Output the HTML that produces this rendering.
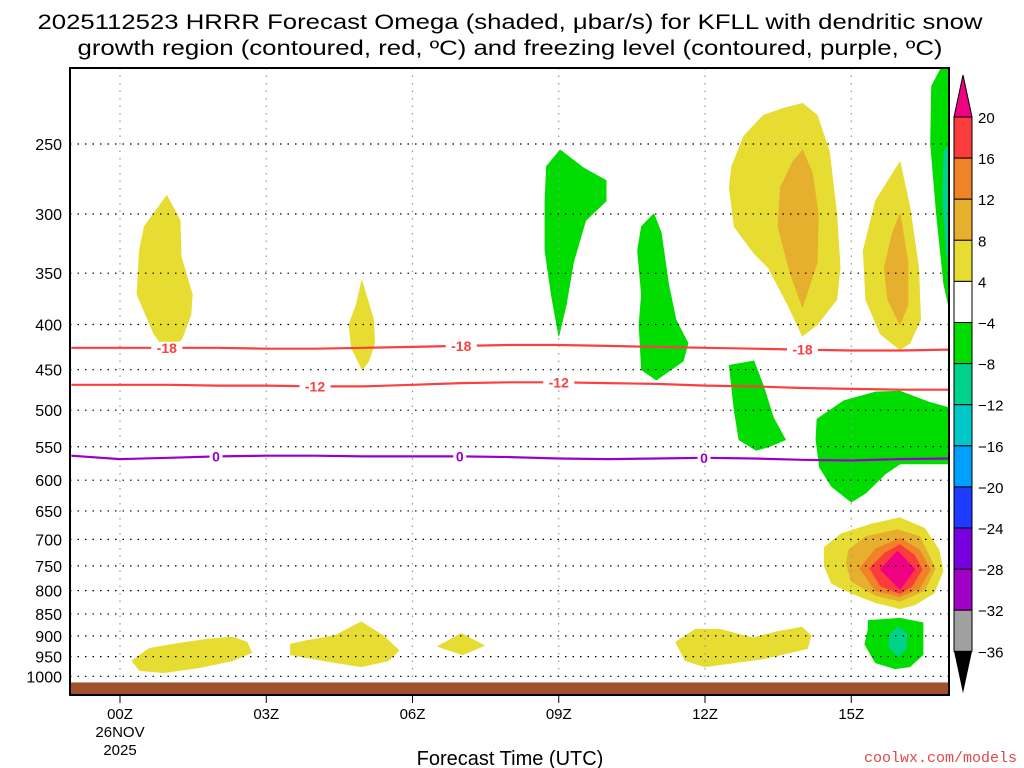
<!DOCTYPE html>
<html><head><meta charset="utf-8"><style>
html,body{margin:0;padding:0;background:#fff;}
svg{display:block;font-family:"Liberation Sans",sans-serif;}
</style></head><body>
<svg id="chart" width="1024" height="768" viewBox="0 0 1024 768" xmlns="http://www.w3.org/2000/svg">
<text x="510" y="29" font-size="21" text-anchor="middle" textLength="945" lengthAdjust="spacingAndGlyphs">2025112523 HRRR Forecast Omega (shaded, μbar/s) for KFLL with dendritic snow</text>
<text x="510" y="55" font-size="21" text-anchor="middle" textLength="865" lengthAdjust="spacingAndGlyphs">growth region (contoured, red, ºC) and freezing level (contoured, purple, ºC)</text>
<g id="plot"></g>
<g id="cbar"></g>
<text x="510" y="765" font-size="20" text-anchor="middle">Forecast Time (UTC)</text>
<text x="1017" y="762" font-size="15" fill="#e04848" text-anchor="end" font-family="Liberation Mono, monospace">coolwx.com/models</text>
</svg>
<script>
const xTickHours=[0,3,6,9,12,15];
const xTickLabels=["00Z","03Z","06Z","09Z","12Z","15Z"];
const yTickPressures=[250,300,350,400,450,500,550,600,650,700,750,800,850,900,950,1000];
const contourHours=[-1,0,1,2,3,4,5,6,7,8,9,10,11,12,13,14,15,16,17];
const iso18=[425,425,425,425,426,426,425,424,423,422,422,423,424,425,426,427,428,428,427];
const iso12=[468,468,468,469,469,470,470,468,466,465,465,466,467,469,470,472,473,474,474];
const iso0=[563,568,566,564,563,563,564,564,564,565,567,568,567,566,567,569,570,568,567];
const label18Hours=[0.96,7.0,14.0];
const label12Hours=[4.0,9.0];
const label0Hours=[1.97,6.97,11.98];
const cbarLevels=["20","16","12","8","4","-4","-8","-12","-16","-20","-24","-28","-32","-36"];
const cbarColors=["#fa3c3c","#f08228","#e6af2d","#e6dc32","#ffffff","#00dc00","#00d28c","#00c8c8","#00a0ff","#1e3cff","#7800dc","#a000c8","#a0a0a0"];
// shaded omega regions: [color, [[hour, pressure], ...]]
const blobColors=["#e6dc32","#e6dc32","#00dc00","#00dc00","#e6dc32","#e6af2d","#e6dc32","#e6af2d","#00dc00","#00d28c","#00dc00","#00dc00","#e6dc32","#e6af2d","#f08228","#fa3c3c","#f00082","#00dc00","#00d28c","#e6dc32","#e6dc32","#e6dc32","#e6dc32"];
const blobPoints=[
[[0.96,286],[1.23,305],[1.25,335],[1.48,370],[1.45,390],[1.27,415],[0.98,430],[0.7,410],[0.35,370],[0.4,330],[0.5,310]],
[[4.96,357],[5.2,395],[5.22,420],[5.1,440],[4.97,450],[4.75,425],[4.7,400],[4.85,380]],
[[9.03,254],[9.5,266],[9.97,275],[9.97,290],[9.55,305],[9.3,340],[9.15,380],[9.0,412],[8.85,370],[8.72,330],[8.72,290],[8.75,265]],
[[10.95,300],[11.1,315],[11.25,360],[11.4,395],[11.65,420],[11.55,440],[11.0,462],[10.7,450],[10.65,400],[10.7,370],[10.62,330],[10.7,310]],
[[14.0,225],[14.3,232],[14.55,255],[14.7,300],[14.77,345],[14.7,375],[14.3,400],[14.0,412],[13.7,380],[13.3,345],[13.0,332],[12.6,310],[12.5,280],[12.55,265],[12.8,245],[13.2,232],[13.6,228]],
[[14.0,254],[14.2,270],[14.32,300],[14.3,340],[14.0,382],[13.75,350],[13.5,310],[13.55,280],[13.8,262]],
[[16.0,262],[16.2,295],[16.38,345],[16.42,395],[16.2,420],[16.0,427],[15.6,410],[15.3,375],[15.25,330],[15.5,290]],
[[16.0,300],[16.16,340],[16.16,380],[16.0,400],[15.75,375],[15.68,345],[15.85,315]],
[[16.85,205],[17.02,205],[17.02,385],[16.9,360],[16.75,300],[16.63,250],[16.65,215]],
[[16.9,255],[17.02,250],[17.02,350],[16.95,330],[16.88,290]],
[[12.5,445],[13.0,440],[13.2,470],[13.4,510],[13.65,540],[13.3,550],[13.05,555],[12.7,540],[12.6,500]],
[[14.3,512],[14.85,488],[15.5,477],[16.0,476],[16.6,490],[17.02,497],[17.02,575],[16.0,575],[15.7,590],[15.3,620],[15.0,635],[14.6,610],[14.35,580],[14.28,540]],
[[14.45,715],[14.8,690],[15.4,673],[16.0,662],[16.5,680],[16.8,720],[16.88,760],[16.7,805],[16.3,830],[16.0,838],[15.5,825],[15.0,805],[14.6,785],[14.45,750]],
[[14.95,720],[15.3,695],[15.95,683],[16.4,695],[16.72,755],[16.5,800],[16.0,822],[15.5,810],[15.0,780],[14.9,745]],
[[15.18,755],[15.5,718],[16.0,698],[16.4,720],[16.62,757],[16.4,795],[16.0,812],[15.5,800]],
[[15.38,755],[15.7,725],[16.0,710],[16.3,730],[16.45,757],[16.25,790],[16.0,806],[15.6,790]],
[[15.6,757],[15.95,722],[16.3,757],[16.0,797]],
[[15.35,865],[16.0,860],[16.47,870],[16.47,945],[16.2,975],[15.9,980],[15.5,965],[15.28,920],[15.35,885]],
[[15.95,880],[16.14,895],[16.12,930],[15.97,950],[15.77,925],[15.8,895]],
[[0.25,960],[0.6,930],[1.2,918],[1.8,908],[2.3,903],[2.6,915],[2.7,940],[2.3,960],[1.6,978],[0.9,990],[0.4,985]],
[[3.5,920],[3.8,912],[4.4,900],[4.95,868],[5.4,900],[5.72,935],[5.5,960],[4.95,975],[4.2,960],[3.5,945]],
[[6.52,925],[7.0,895],[7.47,923],[7.03,945]],
[[11.4,915],[11.8,885],[12.3,885],[12.98,905],[13.5,890],[13.99,880],[14.17,900],[14.1,930],[13.2,955],[12.0,975],[11.6,960]]
];
const NS="http://www.w3.org/2000/svg";
const L=70,R=949,T=68,B=695;
function xs(h){return 120+h*48.75;}
function ys(p){return 144+384*Math.log(p/250);}
function mk(tag,attrs,parent){const e=document.createElementNS(NS,tag);for(const k in attrs)e.setAttribute(k,attrs[k]);parent.appendChild(e);return e;}
const plot=document.getElementById('plot');
const cb=document.getElementById('cbar');
const defs=mk('defs',{},plot);
const cp=mk('clipPath',{id:'clip'},defs);
mk('rect',{x:L,y:T,width:R-L,height:B-T},cp);
const clipG=mk('g',{'clip-path':'url(#clip)'},plot);


blobPoints.forEach((pts,i)=>{
  const d='M'+pts.map(q=>xs(q[0]).toFixed(1)+','+ys(q[1]).toFixed(1)).join('L')+'Z';
  const p=mk('path',{d:d,fill:blobColors[i],stroke:blobColors[i],'stroke-width':1,'stroke-linejoin':'round'},clipG);
  
  
});
// grid
xTickHours.forEach((h,i)=>{
  const g=mk('line',{x1:xs(h),x2:xs(h),y1:T,y2:B,stroke:'#999','stroke-width':1.2,'stroke-dasharray':'1.5 6'},plot);
  
  
  const tk=mk('line',{x1:xs(h),x2:xs(h),y1:B,y2:B+8,stroke:'#000','stroke-width':1},plot);
  
  
  const t=mk('text',{x:xs(h),y:719,'font-size':15,'text-anchor':'middle'},plot);
  t.textContent=xTickLabels[i];
  
  
});
const d1=mk('text',{x:xs(0),y:737,'font-size':15,'text-anchor':'middle'},plot);d1.textContent='26NOV';


const d2=mk('text',{x:xs(0),y:755,'font-size':15,'text-anchor':'middle'},plot);d2.textContent='2025';


yTickPressures.forEach(p=>{
  const g=mk('line',{x1:L,x2:R,y1:ys(p),y2:ys(p),stroke:'#000','stroke-width':1.2,'stroke-dasharray':'1.5 6'},plot);
  
  
  const t=mk('text',{x:62,y:ys(p)+6,'font-size':16,'text-anchor':'end'},plot);
  t.textContent=String(p);
  
  
});
// ground band
const gb=mk('rect',{x:L,y:ys(1016),width:R-L,height:B-ys(1016),fill:'#a0522d'},plot);


// contour lines
function contour(vals,color,name,labelHours,label){
  const d='M'+contourHours.map((h,i)=>xs(h).toFixed(1)+','+ys(vals[i]).toFixed(1)).join('L');
  const p=mk('path',{d:d,fill:'none',stroke:color,'stroke-width':2.2,'clip-path':'url(#clip)'},plot);
  
  
  labelHours.forEach(h=>{
    const i=Math.floor(h)+1,f=h-Math.floor(h);
    const pv=vals[i]+(vals[Math.min(i+1,vals.length-1)]-vals[i])*f;
    const w=label.length*9+4;
    const bg=mk('rect',{x:xs(h)-w/2,y:ys(pv)-6,width:w,height:12,fill:'#fff'},plot);
    
    
    const t=mk('text',{x:xs(h),y:ys(pv)+5,'font-size':14,'font-weight':'bold',fill:color,'text-anchor':'middle'},plot);
    t.textContent=label;
    
    
  });
}
contour(iso18,'#fa4040','isotherm-minus18',label18Hours,'-18');
contour(iso12,'#fa4040','isotherm-minus12',label12Hours,'-12');
contour(iso0,'#9a00c8','freezing-level',label0Hours,'0');
const fr=mk('rect',{x:L,y:T,width:R-L,height:B-T,fill:'none',stroke:'#000','stroke-width':2},plot);


// colorbar
const cx=954,cw=18,c0=117,step=41.1;
const tri=mk('path',{d:`M${cx},${c0}L${cx+cw/2},75L${cx+cw},${c0}Z`,fill:'#f00082',stroke:'#000','stroke-width':1},cb);


cbarColors.forEach((c,i)=>{
  const r=mk('rect',{x:cx,y:c0+i*step,width:cw,height:step,fill:c,stroke:'#000','stroke-width':1},cb);
  
  
});
const bot=c0+cbarColors.length*step;
const tri2=mk('path',{d:`M${cx},${bot}L${cx+cw/2},${bot+42}L${cx+cw},${bot}Z`,fill:'#000'},cb);


cbarLevels.forEach((l,i)=>{
  const t=mk('text',{x:978,y:c0+i*step+6,'font-size':15},cb);
  t.textContent=l.replace('-','\u2212');
  
  
});
</script>
</body></html>
